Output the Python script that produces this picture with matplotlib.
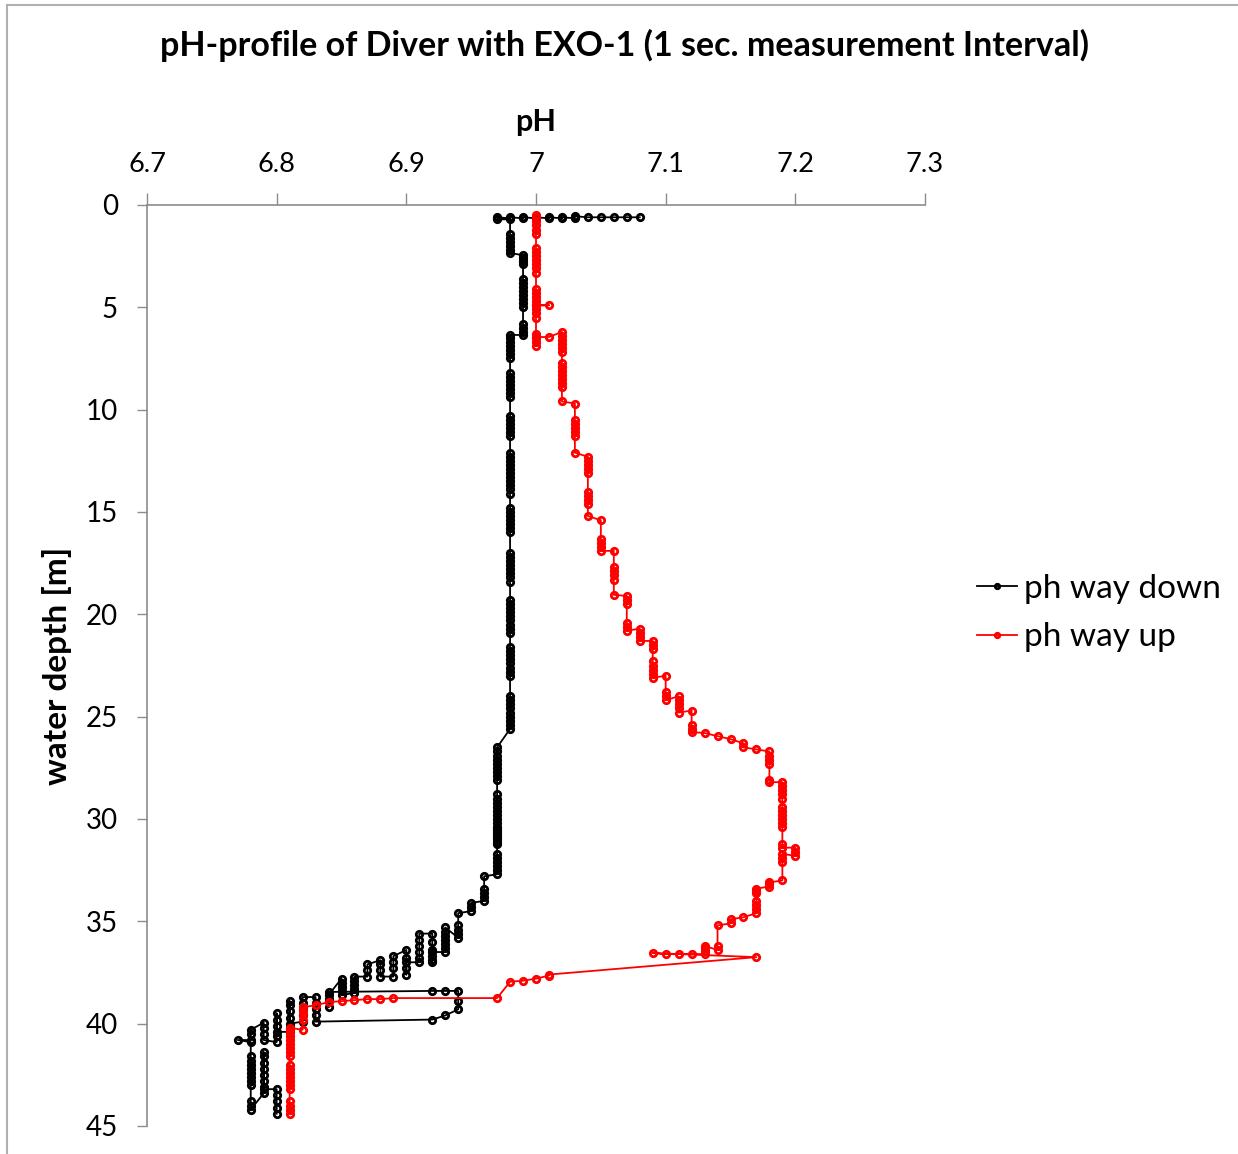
import numpy as np
import matplotlib.pyplot as plt
from matplotlib.lines import Line2D

plt.rcParams['font.family'] = ['Lato', 'DejaVu Sans']

title = 'pH-profile of Diver with EXO-1 (1 sec. measurement Interval)'
x_ticks = [6.7, 6.8, 6.9, 7.0, 7.1, 7.2, 7.3]
x_labels = ['6.7', '6.8', '6.9', '7', '7.1', '7.2', '7.3']
y_ticks = [0, 5, 10, 15, 20, 25, 30, 35, 40, 45]

# way down, time order: (pH, depths logged at that pH)
down_runs = [
  (7.08, [0.6]), (7.07, [0.6]), (7.06, [0.6]), (7.05, [0.6]), (7.04, [0.6]),
  (7.03, [0.55, 0.6, 0.65]), (7.02, [0.6, 0.65]), (7.01, [0.6, 0.65]),
  (7.00, [0.6, 0.65]), (6.99, [0.6, 0.65]), (6.98, [0.6, 0.65]),
  (6.97, [0.6, 0.65, 0.7]),
  (6.98, [0.7, 1.4, 1.6, 1.8, 2.0, 2.2, 2.35]),
  (6.99, [2.45, 2.6, 2.75, 2.9, 3.6, 3.8, 4.0, 4.2, 4.4, 4.6, 4.8, 5.0,
          5.8, 6.0, 6.2, 6.35]),
  (6.98, [6.35, 6.5, 6.7, 6.9, 7.1, 7.3, 7.5,
          8.2, 8.4, 8.6, 8.8, 9.0, 9.2, 9.4,
          10.3, 10.5, 10.7, 10.9, 11.1, 11.3,
          12.1, 12.3, 12.5, 12.7, 12.9, 13.1, 13.3, 13.5, 13.7, 13.9, 14.1,
          14.8, 15.0, 15.2, 15.4, 15.6, 15.8, 16.0,
          17.0, 17.2, 17.4, 17.6, 17.8, 18.0, 18.2, 18.4,
          19.3, 19.5, 19.7, 19.9, 20.1, 20.3, 20.5, 20.7, 20.9,
          21.6, 21.8, 22.0, 22.2, 22.4, 22.6, 22.8, 23.0,
          24.0, 24.2, 24.4, 24.6, 24.8, 25.0, 25.2, 25.4, 25.6]),
  (6.97, [26.5, 26.7, 26.9, 27.1, 27.3, 27.5, 27.7, 27.9, 28.1,
          28.8, 29.0, 29.2, 29.4, 29.6, 29.8, 30.0, 30.2, 30.4, 30.5, 30.6,
          30.7, 30.8, 30.9, 31.0, 31.1, 31.2,
          31.7, 31.9, 32.1, 32.3, 32.5, 32.7]),
  (6.96, [32.8, 33.4, 33.6, 33.8, 34.0]),
  (6.95, [34.1, 34.3, 34.5]),
  (6.94, [34.6, 35.2, 35.4, 35.6, 35.8]),
  (6.93, [35.3, 35.5, 35.7, 35.9, 36.1, 36.3, 36.5]),
  (6.92, [36.5, 36.7, 36.9, 37.0, 36.4, 36.0, 35.6]),
  (6.91, [35.6, 35.9, 36.2, 36.5, 36.8, 37.0]),
  (6.90, [37.0, 37.3, 37.6, 36.8, 36.4]),
  (6.89, [36.7, 37.0, 37.3, 37.7]),
  (6.88, [37.7, 37.4, 37.1, 36.9]),
  (6.87, [37.1, 37.4, 37.7]),
  (6.86, [37.7, 37.9, 38.1, 38.3, 38.5]),
  (6.85, [38.6, 38.4, 38.2, 38.0, 37.8]),
  (6.84, [38.6, 38.9, 39.2, 38.8, 38.45]),
  (6.92, [38.4]), (6.93, [38.4]), (6.94, [38.4, 38.9, 39.3]),
  (6.93, [39.6]), (6.92, [39.8]),
  (6.83, [39.9, 39.6, 39.3, 39.0, 38.7]),
  (6.82, [38.7, 39.0, 39.3, 39.6, 39.9]),
  (6.81, [40.0, 39.7, 39.4, 39.1, 38.9, 40.2, 40.4]),
  (6.80, [40.4, 40.1, 39.8, 39.5, 40.6, 40.9]),
  (6.79, [40.8, 40.5, 40.2, 39.95]),
  (6.78, [40.3, 40.5, 40.8]),
  (6.77, [40.8]),
  (6.78, [40.9, 41.6, 41.8, 42.0, 42.2, 42.4, 42.6, 42.8, 43.0,
          43.8, 44.0, 44.2]),
  (6.79, [43.4, 43.1, 42.8, 42.5, 42.2, 41.9, 41.6, 41.4, 43.2]),
  (6.80, [43.2, 43.5, 43.8, 44.1, 44.4]),
]

# way up, time order (from the bottom back to the surface)
up_runs = [
  (6.81, [44.4, 44.2, 44.0, 43.8, 43.2, 43.0, 42.8, 42.6, 42.4, 42.2, 42.0,
          41.6, 41.4, 41.2, 41.0, 40.8, 40.6, 40.4, 40.2]),
  (6.82, [40.3, 39.8, 39.6, 39.4, 39.2]),
  (6.83, [39.1]), (6.84, [38.95]), (6.85, [38.9]), (6.86, [38.85]),
  (6.87, [38.8]), (6.88, [38.8]), (6.89, [38.75]),
  (6.97, [38.75]), (6.98, [37.95]), (6.99, [37.9]), (7.00, [37.8]),
  (7.01, [37.65, 37.6]),
  (7.17, [36.75]),
  (7.09, [36.55]), (7.10, [36.6]), (7.11, [36.6]), (7.12, [36.6]),
  (7.13, [36.6, 36.45, 36.3, 36.2]),
  (7.14, [36.4, 36.2, 35.2]),
  (7.15, [35.1, 34.9]), (7.16, [34.8]),
  (7.17, [34.6, 34.4, 34.2, 34.0, 33.6, 33.5, 33.4]),
  (7.18, [33.3, 33.2, 33.1]),
  (7.19, [33.0, 32.1, 31.9, 31.7]),
  (7.20, [31.8, 31.6, 31.4]),
  (7.19, [31.4, 31.2, 30.4, 30.2, 30.0, 29.8, 29.6, 29.4,
          29.0, 28.8, 28.6, 28.4, 28.2]),
  (7.18, [28.2, 28.1, 27.3, 27.1, 26.9, 26.7]),
  (7.17, [26.6]), (7.16, [26.5, 26.3]), (7.15, [26.1]), (7.14, [25.95]),
  (7.13, [25.8]),
  (7.12, [25.75, 25.6, 25.4, 24.7]),
  (7.11, [24.8, 24.6, 24.4, 24.2, 24.0]),
  (7.10, [24.2, 24.0, 23.8, 23.0]),
  (7.09, [23.1, 22.9, 22.7, 22.5, 22.3, 21.7, 21.5, 21.3]),
  (7.08, [21.3, 21.1, 20.9, 20.7]),
  (7.07, [20.8, 20.6, 20.4, 19.5, 19.3, 19.1]),
  (7.06, [19.05, 18.3, 18.1, 17.9, 17.7, 16.9]),
  (7.05, [16.9, 16.7, 16.5, 16.3, 15.4]),
  (7.04, [15.2, 14.6, 14.4, 14.2, 14.0, 13.1, 12.9, 12.7, 12.5, 12.3]),
  (7.03, [12.1, 11.3, 11.1, 10.9, 10.7, 10.5, 9.7]),
  (7.02, [9.6, 8.9, 8.7, 8.5, 8.3, 8.1, 7.9, 7.7,
          7.2, 7.0, 6.8, 6.6, 6.4, 6.2]),
  (7.01, [6.45]),
  (7.00, [6.45, 6.7, 6.9, 6.5, 6.3, 5.5, 5.3, 5.1, 4.9]),
  (7.01, [4.9]),
  (7.00, [4.9, 4.7, 4.5, 4.3, 4.1, 3.3, 3.1, 2.9, 2.7, 2.5, 2.3, 2.1,
          1.4, 1.2, 1.0, 0.8, 0.6, 0.5]),
]


def unroll(runs):
  ph, depth = [], []
  for p, ds in runs:
    for d in ds:
      ph.append(p)
      depth.append(d)
  return np.array(ph), np.array(depth)


down_ph, down_depth = unroll(down_runs)
up_ph, up_depth = unroll(up_runs)

fig = plt.figure(figsize=(12.38, 11.54), dpi=100)
ax = fig.add_axes([147/1238, 1 - 1126/1154, 778/1238, 921/1154])

ax.plot(down_ph, down_depth, '-o', color='black', lw=1.3, ms=4.6, mfc='none',
        mew=2.0, label='ph way down')
ax.plot(up_ph, up_depth, '-o', color='#ff0000', lw=1.3, ms=4.6, mfc='none',
        mew=2.0, label='ph way up')

ax.set_xlim(6.7, 7.3)
ax.set_ylim(45, 0)
ax.xaxis.tick_top()
ax.xaxis.set_label_position('top')
ax.set_xticks(x_ticks)
ax.set_xticklabels(x_labels)
ax.set_yticks(y_ticks)
ax.tick_params(axis='x', direction='out', length=9, width=1, color='#8c8c8c',
               pad=11, labelsize=19.5)
ax.tick_params(axis='y', direction='out', length=7, width=1, color='#8c8c8c',
               pad=14, labelsize=20)
for side in ['bottom', 'right']:
  ax.spines[side].set_visible(False)
for side in ['top', 'left']:
  ax.spines[side].set_color('#8c8c8c')
  ax.spines[side].set_linewidth(1.2)

ax.set_xlabel('pH', fontsize=22, fontweight='bold')
ax.xaxis.set_label_coords(0.5, 1.08)
ax.set_ylabel('water depth [m]', fontsize=24, fontweight='bold')
ax.yaxis.set_label_coords(-0.097, 0.5)

fig.text(624/1238, 1 - 45/1154, title, ha='center', va='center',
         fontsize=24.5, fontweight='bold')

ax.legend(loc='center left', bbox_to_anchor=(977/1238, 1 - 613/1154),
          bbox_transform=fig.transFigure, frameon=False, fontsize=24,
          numpoints=1, handlelength=1.2, handletextpad=0.2, labelspacing=0.55,
          borderpad=0, borderaxespad=0, markerscale=0.7)

# chart area border (top and left edges are visible in the original)
fig.add_artist(Line2D([7/1238, 1], [1 - 5/1154, 1 - 5/1154], color='#b0b0b0',
                      lw=1.5, transform=fig.transFigure))
fig.add_artist(Line2D([7/1238, 7/1238], [0, 1 - 5/1154], color='#b0b0b0',
                      lw=1.5, transform=fig.transFigure))

fig.savefig('out.png', dpi=100)
